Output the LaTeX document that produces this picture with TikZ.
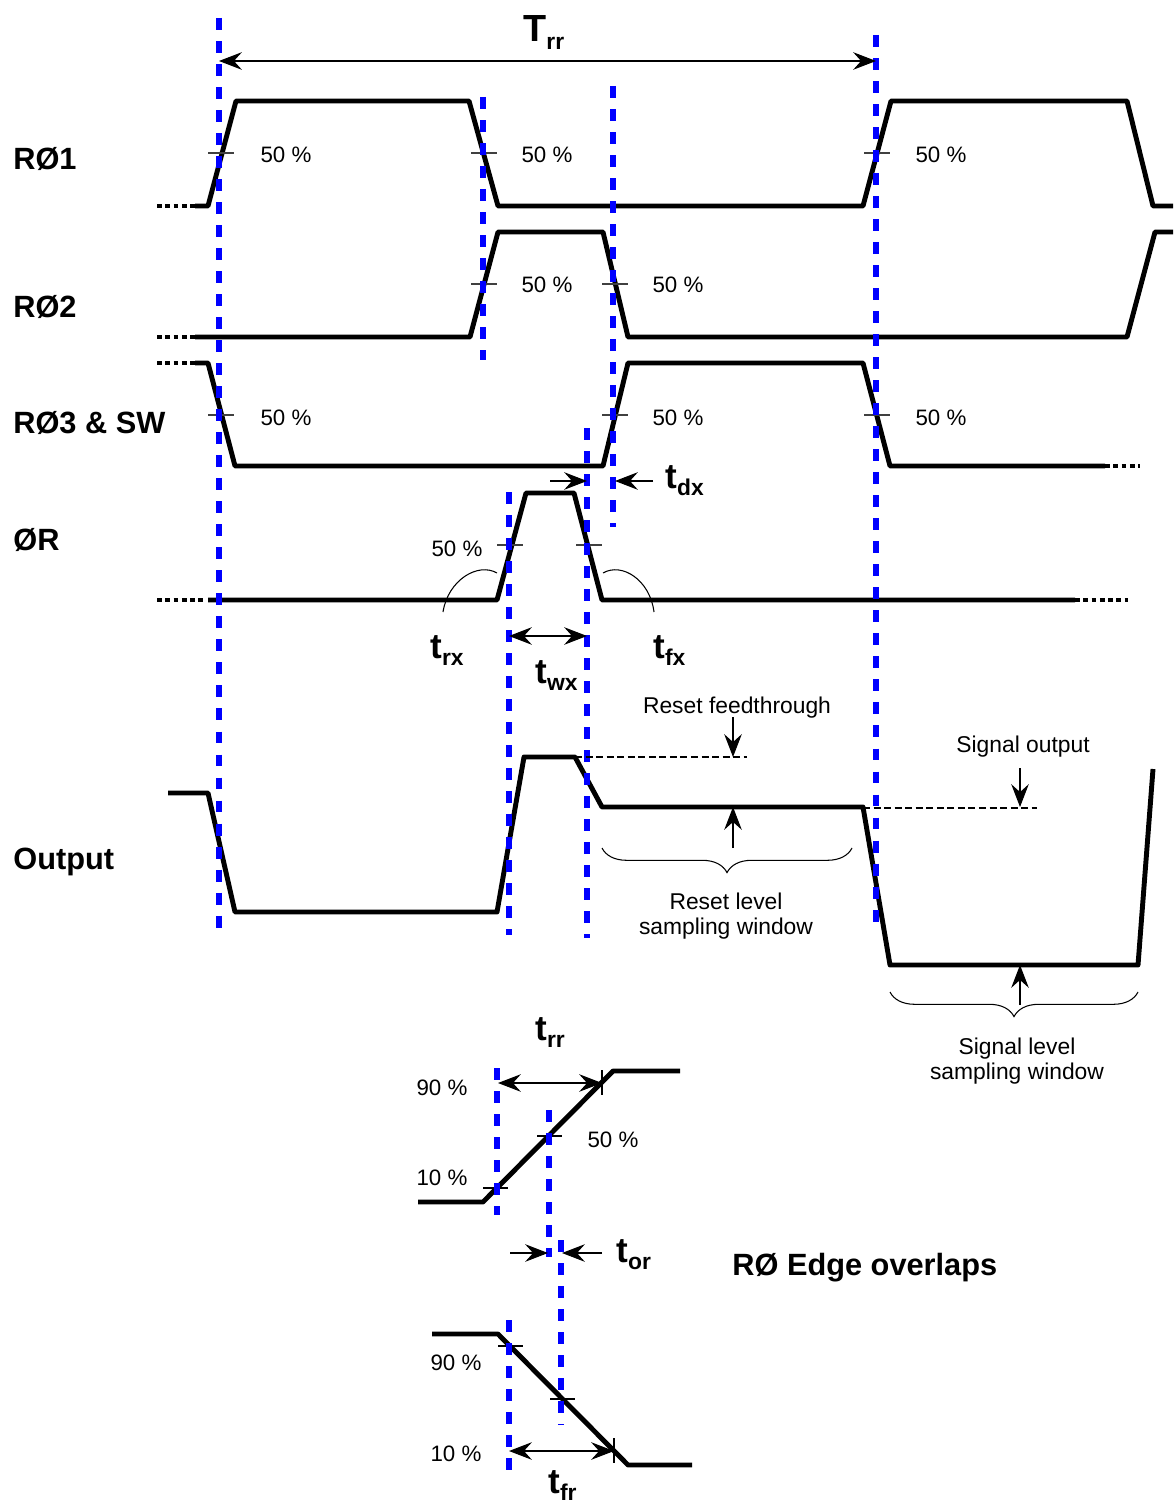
\documentclass[tikz,border=0pt]{standalone}
\usepackage{fontspec}
\setmainfont{Liberation Sans}
\usetikzlibrary{arrows.meta, decorations.pathreplacing}

\newcommand{\tlab}[2]{#1\raisebox{-4.5pt}{\fontsize{13}{13}\selectfont #2}}

\begin{document}
\begin{tikzpicture}[
    x=0.02cm, y=-0.02cm,
    every node/.style={inner sep=0pt},
    wave/.style={line width=2.8pt, line join=round},
    dots/.style={line width=2.8pt, dash pattern=on 2.8pt off 1.9pt},
    marker/.style={blue, line width=3.4pt, dash pattern=on 6.8pt off 6.3pt},
    tick/.style={line width=0.6pt, black!75},
    dim/.style={{Stealth[length=13pt, width=10pt, inset=4.5pt]}-{Stealth[length=13pt, width=10pt, inset=4.5pt]}, line width=0.6pt},
    pointer/.style={-{Stealth[length=13pt, width=10pt, inset=4.5pt]}, line width=0.6pt},
    guide/.style={line width=0.6pt, dash pattern=on 4pt off 2pt},
    curl/.style={decorate, decoration={brace, mirror, amplitude=14pt}, line width=0.6pt},
    signame/.style={font=\fontsize{17.5}{20}\selectfont\bfseries, anchor=base west},
    tname/.style={font=\fontsize{20}{22}\selectfont\bfseries, anchor=base west},
    pct/.style={font=\fontsize{12.7}{14}\selectfont, anchor=base},
    note/.style={font=\fontsize{13}{14.2}\selectfont, align=center}
]
    \useasboundingbox (0,0) rectangle (1173,1506);

    % Signal names
    \node[signame] (ro1) at (13,170) {RØ1};
    \node[signame] (ro2) at (13,318) {RØ2};
    \node[signame] (ro3) at (13,434) {RØ3 \& SW};
    \node[signame] (phir) at (13,550) {ØR};
    \node[signame] (out) at (13,869) {Output};

    % Waveforms
    \draw[dots] (157,206) -- (195,206);
    \draw[wave] (195,206) -- (208,206) -- (236,101) -- (469,101) -- (498,206) -- (863,206) -- (891,101) -- (1127,101) -- (1153,206) -- (1173,206);
    \draw[dots] (157,337) -- (195,337);
    \draw[wave] (195,337) -- (470,337) -- (498,232) -- (603,232) -- (628,337) -- (1127,337) -- (1155,232) -- (1173,232);
    \draw[dots] (157,363) -- (195,363);
    \draw[wave] (195,363) -- (208,363) -- (235,466) -- (603,466) -- (628,363) -- (863,363) -- (890,466) -- (1105,466);
    \draw[dots] (1105,466) -- (1140,466);
    \draw[dots] (157,600) -- (205,600);
    \draw[wave] (208,600) -- (497,600) -- (526,493) -- (574,493) -- (602,600) -- (1075,600);
    \draw[dots] (1075,600) -- (1128,600);
    \draw[wave] (168,793) -- (208,793) -- (235,912) -- (497,912) -- (524,757) -- (575,757) -- (602,807) -- (863,807) -- (890,965) -- (1138,965) -- (1153,769);

    % 50 % crossings
    \foreach \x/\y in {221/153, 484/153, 877/153, 484/284, 615/284, 221/415, 615/415, 877/415, 510/545, 589/545}
        \draw[tick] (\x-13,\y) -- (\x+13,\y);
    \foreach \x/\y [count=\i] in {286/163, 547/163, 941/163, 547/293, 678/293, 286/426, 678/426, 941/426, 457/556}
        \node[pct] (pct\i) at (\x,\y) {50 \%};

    % Blue markers
    \draw[marker] (219,18) -- (219,938);
    \draw[marker] (483,97) -- (483,360);
    \draw[marker] (613,86) -- (613,527);
    \draw[marker] (876,35) -- (876,930);
    \draw[marker] (509,492) -- (509,935);
    \draw[marker] (587,428) -- (587,938);

    % Period
    \coordinate (TrrL) at (219,61);
    \coordinate (TrrR) at (876,61);
    \draw[dim] (TrrL) -- (TrrR);
    \node[tname, font=\fontsize{21.5}{24}\selectfont\bfseries] (Trr) at (523,42) {\tlab{T}{rr}};

    % Delay and width of the reset pulse
    \coordinate (dxA) at (550,481);
    \coordinate (dxB) at (587,481);
    \coordinate (dxC) at (653,481);
    \coordinate (dxD) at (615,481);
    \draw[pointer] (dxA) -- (dxB);
    \draw[pointer] (dxC) -- (dxD);
    \node[tname] (tdx) at (665,488) {\tlab{t}{dx}};
    \coordinate (wxL) at (509,636);
    \coordinate (wxR) at (587,636);
    \draw[dim] (wxL) -- (wxR);
    \node[tname] (twx) at (535,683) {\tlab{t}{wx}};
    \draw[line width=0.6pt] (443,612) .. controls (448,580) and (478,562) .. (497,573);
    \draw[line width=0.6pt] (603,573) .. controls (622,562) and (650,580) .. (654,612);
    \node[tname] (trx) at (430,658) {\tlab{t}{rx}};
    \node[tname] (tfx) at (653,658) {\tlab{t}{fx}};

    % Output levels
    \node[note, anchor=base] (feed) at (737,713) {Reset feedthrough};
    \coordinate (feedA) at (733,717);
    \coordinate (feedB) at (733,757);
    \draw[guide] (575,757) -- (747,757);
    \draw[pointer] (feedA) -- (feedB);
    \coordinate (rstA) at (733,848);
    \coordinate (rstB) at (733,807);
    \draw[pointer] (rstA) -- (rstB);
    \draw[curl] (602,848) -- (852,848);
    \node[note] (rstwin) at (726,916) {Reset level\\sampling window};

    \node[note, anchor=base] (sigout) at (1023,752) {Signal output};
    \coordinate (sigA) at (1020,768);
    \coordinate (sigB) at (1020,807);
    \draw[guide] (863,808) -- (1037,808);
    \draw[pointer] (sigA) -- (sigB);
    \coordinate (lvlA) at (1020,1005);
    \coordinate (lvlB) at (1020,965);
    \draw[pointer] (lvlA) -- (lvlB);
    \draw[curl] (890,992) -- (1138,992);
    \node[note] (sigwin) at (1017,1061) {Signal level\\sampling window};

    % Edge overlaps
    \node[signame] (edges) at (732,1275) {RØ Edge overlaps};
    \draw[wave] (418,1202) -- (483,1202) -- (613,1071) -- (680,1071);
    \draw[tick, black] (483,1188) -- (508,1188);
    \draw[tick, black] (537,1136) -- (562,1136);
    \draw[tick, black] (602,1070) -- (602,1095);
    \draw[marker] (497,1068) -- (497,1215);
    \draw[marker] (549,1110) -- (549,1257);
    \node[pct] (r90) at (442,1095) {90 \%};
    \node[pct] (r10) at (442,1185) {10 \%};
    \node[pct] (r50) at (613,1147) {50 \%};
    \coordinate (rrL) at (498,1083);
    \coordinate (rrR) at (602,1083);
    \draw[dim] (rrL) -- (rrR);
    \node[tname] (trr) at (535,1040) {\tlab{t}{rr}};

    \coordinate (orA) at (510,1253);
    \coordinate (orB) at (548,1253);
    \coordinate (orC) at (602,1253);
    \coordinate (orD) at (562,1253);
    \draw[pointer] (orA) -- (orB);
    \draw[pointer] (orC) -- (orD);
    \node[tname] (tor) at (616,1262) {\tlab{t}{or}};

    \draw[wave] (432,1334) -- (498,1334) -- (628,1465) -- (692,1465);
    \draw[tick, black] (498,1346) -- (523,1346);
    \draw[tick, black] (550,1399) -- (575,1399);
    \draw[tick, black] (614,1438) -- (614,1463);
    \draw[marker] (561,1240) -- (561,1425);
    \draw[marker] (509,1320) -- (509,1478);
    \node[pct] (f90) at (456,1370) {90 \%};
    \node[pct] (f10) at (456,1461) {10 \%};
    \coordinate (frL) at (509,1451);
    \coordinate (frR) at (614,1451);
    \draw[dim] (frL) -- (frR);
    \node[tname] (tfr) at (548,1493) {\tlab{t}{fr}};

\end{tikzpicture}
\end{document}
